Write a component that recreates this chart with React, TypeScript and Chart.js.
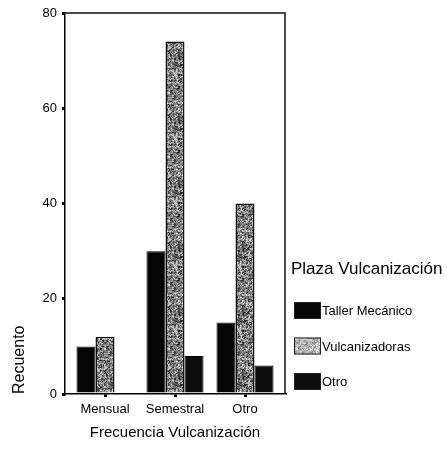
import { useEffect, useRef } from 'react';
import { Chart, registerables } from 'chart.js';

Chart.register(...registerables);

// Frecuencia de vulcanización por tipo de lugar
const categories = ['Mensual', 'Semestral', 'Otro'];
const seriesNames = ['Taller Mecánico', 'Vulcanizadoras', 'Otro'];
const tallerMecanico = [10, 30, 15];
const vulcanizadoras = [12, 74, 40];
const otro = [0, 8, 6];
const yTicks = [0, 20, 40, 60, 80];

const legendTitle = 'Plaza Vulcanización';
const xTitle = 'Frecuencia Vulcanización';
const yTitle = 'Recuento';

const FONT = '"Liberation Sans", Arial, Helvetica, sans-serif';

// Deterministic integer hash used for the stippled gray fill texture
function hash2(x: number, y: number): number {
  let h = Math.imul(x + 1, 374761393) ^ Math.imul(y + 7, 668265263);
  h = Math.imul(h ^ (h >>> 13), 1274126177);
  h ^= h >>> 16;
  return (h >>> 0) / 4294967295;
}

function makeStipple(base: number, range: number): CanvasPattern | string {
  const size = 64;
  const c = document.createElement('canvas');
  c.width = size;
  c.height = size;
  const g = c.getContext('2d');
  if (!g) return '#888';
  const img = g.createImageData(size, size);
  for (let y = 0; y < size; y++) {
    for (let x = 0; x < size; x++) {
      // mix fine grain with 2x2 clumps for a coarser speckle
      const t = 0.55 * hash2(x, y) + 0.45 * hash2((x >> 1) + 101, (y >> 1) + 57);
      const v = Math.round(base + t * range);
      const i = (y * size + x) * 4;
      img.data[i] = v;
      img.data[i + 1] = v;
      img.data[i + 2] = v;
      img.data[i + 3] = 255;
    }
  }
  g.putImageData(img, 0, 0);
  return g.createPattern(c, 'repeat') || '#888';
}

// Top and right edges of the plot frame
const framePlugin = {
  id: 'plotFrame',
  afterDatasetsDraw(chart: any) {
    const { ctx, chartArea } = chart;
    const { left, right, top, bottom } = chartArea;
    ctx.save();
    ctx.strokeStyle = '#111';
    ctx.lineWidth = 1.5;
    ctx.beginPath();
    ctx.moveTo(left, top);
    ctx.lineTo(right, top);
    ctx.lineTo(right, bottom);
    ctx.stroke();
    ctx.restore();
  },
};

// Legend to the right of the plot, with a title and stacked swatches
const sideLegendPlugin = {
  id: 'sideLegend',
  afterDraw(chart: any) {
    const { ctx, chartArea } = chart;
    const x0 = chartArea.right;
    const yb = chartArea.bottom;
    ctx.save();
    ctx.textAlign = 'left';
    ctx.textBaseline = 'middle';
    ctx.fillStyle = '#000';
    ctx.font = `17px ${FONT}`;
    ctx.fillText(legendTitle, x0 + 6, yb - 125);
    ctx.font = `13px ${FONT}`;
    chart.data.datasets.forEach((ds: any, i: number) => {
      const top = yb - 92 + i * 35.5;
      ctx.fillStyle = ds.legendFill || ds.backgroundColor;
      ctx.fillRect(x0 + 9, top, 27, 17);
      ctx.strokeStyle = '#222';
      ctx.lineWidth = 1;
      ctx.strokeRect(x0 + 9.5, top + 0.5, 26, 16);
      ctx.fillStyle = '#000';
      ctx.fillText(ds.label, x0 + 37, top + 9.5);
    });
    ctx.restore();
  },
};

export default function App() {
  const canvasRef = useRef<HTMLCanvasElement | null>(null);

  useEffect(() => {
    const canvas = canvasRef.current;
    if (!canvas) return;
    const stipple = makeStipple(15, 225);
    const stippleLight = makeStipple(110, 145);

    const chart = new Chart(canvas, {
      type: 'bar',
      data: {
        labels: categories,
        datasets: [
          {
            label: seriesNames[0],
            data: tallerMecanico,
            backgroundColor: '#050505',
            borderColor: '#000',
            borderWidth: 1,
          },
          {
            label: seriesNames[1],
            data: vulcanizadoras,
            backgroundColor: stipple as any,
            legendFill: stippleLight,
            borderColor: '#111',
            borderWidth: 1.5,
          } as any,
          {
            label: seriesNames[2],
            data: otro,
            backgroundColor: '#0d0d0d',
            borderColor: '#000',
            borderWidth: 1,
          },
        ],
      },
      options: {
        responsive: false,
        animation: false,
        layout: { padding: { top: 13, right: 162, bottom: 0, left: 0 } },
        datasets: {
          bar: { categoryPercentage: 0.815, barPercentage: 1 },
        },
        plugins: {
          legend: { display: false },
          tooltip: { enabled: false },
        },
        scales: {
          x: {
            grid: {
              display: true,
              drawOnChartArea: false,
              drawTicks: true,
              tickLength: 3,
              lineWidth: 3,
              color: '#000',
              offset: false,
            },
            border: { display: true, color: '#000', width: 1.5 },
            ticks: { color: '#000', padding: 5, font: { family: FONT, size: 13 } },
            title: {
              display: true,
              text: xTitle,
              color: '#000',
              font: { family: FONT, size: 15 },
              padding: { top: 0, bottom: 25 },
            },
            afterFit: (s: any) => {
              s.height = 73;
            },
            // Categories sit 40px in from each frame edge, 70px apart
            afterBuildTicks: (s: any) => {
              s._startValue = -40 / 70;
              s._valueRange = 220 / 70;
            },
          },
          y: {
            min: 0,
            max: 80,
            grid: {
              display: true,
              drawOnChartArea: false,
              drawTicks: true,
              tickLength: 3,
              lineWidth: 3,
              color: '#000',
            },
            border: { display: true, color: '#000', width: 1.5 },
            ticks: { color: '#000', padding: 5, font: { family: FONT, size: 13 } },
            afterBuildTicks: (s: any) => {
              s.ticks = yTicks.map((v) => ({ value: v }));
            },
            title: {
              display: true,
              text: yTitle,
              align: 'start',
              color: '#000',
              font: { family: FONT, size: 16 },
              padding: { top: 10, bottom: 0 },
            },
            afterFit: (s: any) => {
              s.width = 65;
            },
          },
        },
      },
      plugins: [framePlugin, sideLegendPlugin],
    });

    return () => chart.destroy();
  }, []);

  return (
    <div style={{ position: 'fixed', left: 0, top: 0, width: 447, height: 467, background: '#fff' }}>
      <canvas ref={canvasRef} width={447} height={467} style={{ display: 'block' }} />
    </div>
  );
}
